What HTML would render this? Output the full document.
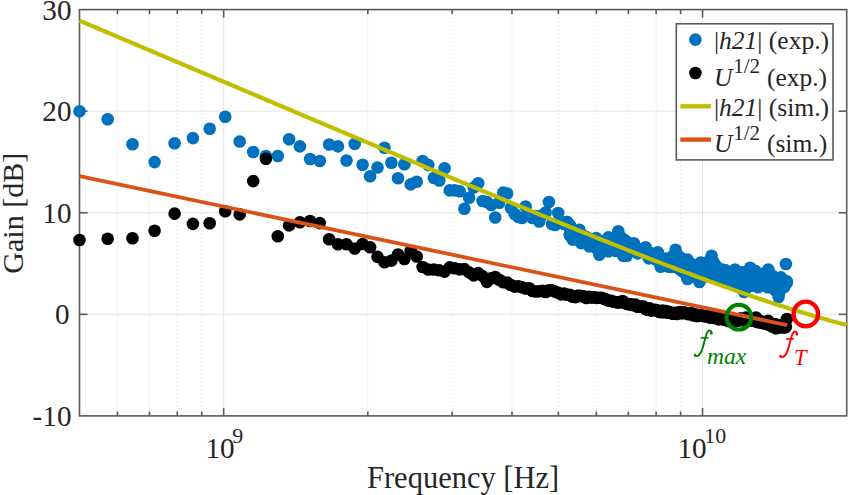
<!DOCTYPE html><html><head><meta charset="utf-8"><style>html,body{margin:0;padding:0;background:#fff;overflow:hidden}svg{display:block}text{font-family:"Liberation Serif",serif;fill:#262626}</style></head><body>
<svg width="849" height="495" viewBox="0 0 849 495">
<line x1="117.42" y1="9.6" x2="117.42" y2="415.9" stroke="#d2d2d2" stroke-width="1" stroke-dasharray="1,3"/><line x1="149.48" y1="9.6" x2="149.48" y2="415.9" stroke="#d2d2d2" stroke-width="1" stroke-dasharray="1,3"/><line x1="177.25" y1="9.6" x2="177.25" y2="415.9" stroke="#d2d2d2" stroke-width="1" stroke-dasharray="1,3"/><line x1="201.75" y1="9.6" x2="201.75" y2="415.9" stroke="#d2d2d2" stroke-width="1" stroke-dasharray="1,3"/><line x1="223.66" y1="9.6" x2="223.66" y2="415.9" stroke="#e4e4e4"  stroke-width="1"/><line x1="367.82" y1="9.6" x2="367.82" y2="415.9" stroke="#d2d2d2" stroke-width="1" stroke-dasharray="1,3"/><line x1="452.14" y1="9.6" x2="452.14" y2="415.9" stroke="#d2d2d2" stroke-width="1" stroke-dasharray="1,3"/><line x1="511.97" y1="9.6" x2="511.97" y2="415.9" stroke="#d2d2d2" stroke-width="1" stroke-dasharray="1,3"/><line x1="558.38" y1="9.6" x2="558.38" y2="415.9" stroke="#d2d2d2" stroke-width="1" stroke-dasharray="1,3"/><line x1="596.30" y1="9.6" x2="596.30" y2="415.9" stroke="#d2d2d2" stroke-width="1" stroke-dasharray="1,3"/><line x1="628.36" y1="9.6" x2="628.36" y2="415.9" stroke="#d2d2d2" stroke-width="1" stroke-dasharray="1,3"/><line x1="656.13" y1="9.6" x2="656.13" y2="415.9" stroke="#d2d2d2" stroke-width="1" stroke-dasharray="1,3"/><line x1="680.63" y1="9.6" x2="680.63" y2="415.9" stroke="#d2d2d2" stroke-width="1" stroke-dasharray="1,3"/><line x1="702.54" y1="9.6" x2="702.54" y2="415.9" stroke="#e4e4e4"  stroke-width="1"/><line x1="79.5" y1="111.17" x2="846.7" y2="111.17" stroke="#e4e4e4"  stroke-width="1"/><line x1="79.5" y1="212.75" x2="846.7" y2="212.75" stroke="#e4e4e4"  stroke-width="1"/><line x1="79.5" y1="314.32" x2="846.7" y2="314.32" stroke="#e4e4e4"  stroke-width="1"/>
<rect x="79.5" y="9.6" width="767.20" height="406.30" fill="none" stroke="#5a5a5a" stroke-width="1.6"/><line x1="117.42" y1="415.9" x2="117.42" y2="411.5" stroke="#5a5a5a" stroke-width="1.6"/><line x1="117.42" y1="9.6" x2="117.42" y2="14.0" stroke="#5a5a5a" stroke-width="1.6"/><line x1="149.48" y1="415.9" x2="149.48" y2="411.5" stroke="#5a5a5a" stroke-width="1.6"/><line x1="149.48" y1="9.6" x2="149.48" y2="14.0" stroke="#5a5a5a" stroke-width="1.6"/><line x1="177.25" y1="415.9" x2="177.25" y2="411.5" stroke="#5a5a5a" stroke-width="1.6"/><line x1="177.25" y1="9.6" x2="177.25" y2="14.0" stroke="#5a5a5a" stroke-width="1.6"/><line x1="201.75" y1="415.9" x2="201.75" y2="411.5" stroke="#5a5a5a" stroke-width="1.6"/><line x1="201.75" y1="9.6" x2="201.75" y2="14.0" stroke="#5a5a5a" stroke-width="1.6"/><line x1="223.66" y1="415.9" x2="223.66" y2="407.9" stroke="#5a5a5a" stroke-width="1.6"/><line x1="223.66" y1="9.6" x2="223.66" y2="17.6" stroke="#5a5a5a" stroke-width="1.6"/><line x1="367.82" y1="415.9" x2="367.82" y2="411.5" stroke="#5a5a5a" stroke-width="1.6"/><line x1="367.82" y1="9.6" x2="367.82" y2="14.0" stroke="#5a5a5a" stroke-width="1.6"/><line x1="452.14" y1="415.9" x2="452.14" y2="411.5" stroke="#5a5a5a" stroke-width="1.6"/><line x1="452.14" y1="9.6" x2="452.14" y2="14.0" stroke="#5a5a5a" stroke-width="1.6"/><line x1="511.97" y1="415.9" x2="511.97" y2="411.5" stroke="#5a5a5a" stroke-width="1.6"/><line x1="511.97" y1="9.6" x2="511.97" y2="14.0" stroke="#5a5a5a" stroke-width="1.6"/><line x1="558.38" y1="415.9" x2="558.38" y2="411.5" stroke="#5a5a5a" stroke-width="1.6"/><line x1="558.38" y1="9.6" x2="558.38" y2="14.0" stroke="#5a5a5a" stroke-width="1.6"/><line x1="596.30" y1="415.9" x2="596.30" y2="411.5" stroke="#5a5a5a" stroke-width="1.6"/><line x1="596.30" y1="9.6" x2="596.30" y2="14.0" stroke="#5a5a5a" stroke-width="1.6"/><line x1="628.36" y1="415.9" x2="628.36" y2="411.5" stroke="#5a5a5a" stroke-width="1.6"/><line x1="628.36" y1="9.6" x2="628.36" y2="14.0" stroke="#5a5a5a" stroke-width="1.6"/><line x1="656.13" y1="415.9" x2="656.13" y2="411.5" stroke="#5a5a5a" stroke-width="1.6"/><line x1="656.13" y1="9.6" x2="656.13" y2="14.0" stroke="#5a5a5a" stroke-width="1.6"/><line x1="680.63" y1="415.9" x2="680.63" y2="411.5" stroke="#5a5a5a" stroke-width="1.6"/><line x1="680.63" y1="9.6" x2="680.63" y2="14.0" stroke="#5a5a5a" stroke-width="1.6"/><line x1="702.54" y1="415.9" x2="702.54" y2="407.9" stroke="#5a5a5a" stroke-width="1.6"/><line x1="702.54" y1="9.6" x2="702.54" y2="17.6" stroke="#5a5a5a" stroke-width="1.6"/><line x1="79.5" y1="111.17" x2="87.5" y2="111.17" stroke="#5a5a5a" stroke-width="1.6"/><line x1="846.7" y1="111.17" x2="838.7" y2="111.17" stroke="#5a5a5a" stroke-width="1.6"/><line x1="79.5" y1="212.75" x2="87.5" y2="212.75" stroke="#5a5a5a" stroke-width="1.6"/><line x1="846.7" y1="212.75" x2="838.7" y2="212.75" stroke="#5a5a5a" stroke-width="1.6"/><line x1="79.5" y1="314.32" x2="87.5" y2="314.32" stroke="#5a5a5a" stroke-width="1.6"/><line x1="846.7" y1="314.32" x2="838.7" y2="314.32" stroke="#5a5a5a" stroke-width="1.6"/>
<g fill="#0072bd"><circle cx="79.5" cy="111.3" r="6.3"/><circle cx="107.7" cy="119.2" r="6.3"/><circle cx="132.5" cy="144.2" r="6.3"/><circle cx="154.6" cy="162.1" r="6.3"/><circle cx="174.6" cy="143.2" r="6.3"/><circle cx="192.9" cy="138.1" r="6.3"/><circle cx="209.7" cy="128.8" r="6.3"/><circle cx="225.2" cy="116.7" r="6.3"/><circle cx="239.7" cy="141.5" r="6.3"/><circle cx="253.2" cy="152.0" r="6.3"/><circle cx="265.9" cy="156.0" r="6.3"/><circle cx="277.8" cy="156.0" r="6.3"/><circle cx="289.1" cy="139.2" r="6.3"/><circle cx="299.9" cy="146.4" r="6.3"/><circle cx="310.1" cy="159.0" r="6.3"/><circle cx="319.8" cy="161.0" r="6.3"/><circle cx="329.1" cy="144.5" r="6.3"/><circle cx="338.0" cy="146.4" r="6.3"/><circle cx="346.5" cy="160.5" r="6.3"/><circle cx="354.7" cy="143.9" r="6.3"/><circle cx="362.6" cy="164.7" r="6.3"/><circle cx="370.1" cy="176.3" r="6.3"/><circle cx="377.5" cy="167.5" r="6.3"/><circle cx="384.5" cy="147.7" r="6.3"/><circle cx="391.4" cy="162.8" r="6.3"/><circle cx="398.0" cy="178.2" r="6.3"/><circle cx="404.4" cy="164.3" r="6.3"/><circle cx="410.7" cy="184.4" r="6.3"/><circle cx="416.7" cy="181.7" r="6.3"/><circle cx="422.6" cy="161.0" r="6.3"/><circle cx="428.3" cy="165.0" r="6.3"/><circle cx="433.9" cy="178.0" r="6.3"/><circle cx="439.3" cy="180.5" r="6.3"/><circle cx="444.6" cy="168.2" r="6.3"/><circle cx="449.7" cy="190.4" r="6.3"/><circle cx="454.7" cy="190.4" r="6.3"/><circle cx="459.6" cy="191.2" r="6.3"/><circle cx="464.4" cy="208.7" r="6.3"/><circle cx="469.1" cy="197.8" r="6.3"/><circle cx="473.7" cy="187.5" r="6.3"/><circle cx="478.2" cy="183.3" r="6.3"/><circle cx="482.6" cy="201.0" r="6.3"/><circle cx="486.9" cy="202.0" r="6.3"/><circle cx="491.1" cy="205.0" r="6.3"/><circle cx="495.2" cy="217.5" r="6.3"/><circle cx="499.2" cy="202.7" r="6.3"/><circle cx="503.2" cy="192.6" r="6.3"/><circle cx="507.1" cy="193.5" r="6.3"/><circle cx="510.9" cy="208.0" r="6.3"/><circle cx="514.7" cy="214.0" r="6.3"/><circle cx="518.4" cy="217.0" r="6.3"/><circle cx="522.0" cy="218.0" r="6.3"/><circle cx="525.6" cy="206.5" r="6.3"/><circle cx="529.1" cy="215.4" r="6.3"/><circle cx="532.5" cy="218.0" r="6.3"/><circle cx="535.9" cy="216.0" r="6.3"/><circle cx="539.2" cy="221.5" r="6.3"/><circle cx="542.5" cy="215.0" r="6.3"/><circle cx="545.7" cy="212.5" r="6.3"/><circle cx="548.9" cy="202.0" r="6.3"/><circle cx="552.0" cy="224.0" r="6.3"/><circle cx="555.1" cy="225.0" r="6.3"/><circle cx="558.2" cy="213.0" r="6.3"/><circle cx="561.2" cy="222.0" r="6.3"/><circle cx="564.1" cy="224.0" r="6.3"/><circle cx="567.0" cy="222.0" r="6.3"/><circle cx="569.9" cy="235.0" r="6.3"/><circle cx="572.7" cy="239.5" r="6.3"/><circle cx="569.9" cy="229.1" r="6.3"/><circle cx="569.9" cy="235.2" r="6.3"/><circle cx="572.7" cy="230.5" r="6.3"/><circle cx="572.7" cy="235.2" r="6.3"/><circle cx="575.5" cy="231.9" r="6.3"/><circle cx="575.5" cy="236.3" r="6.3"/><circle cx="578.3" cy="233.2" r="6.3"/><circle cx="578.3" cy="237.7" r="6.3"/><circle cx="581.0" cy="234.5" r="6.3"/><circle cx="581.0" cy="239.1" r="6.3"/><circle cx="583.7" cy="235.8" r="6.3"/><circle cx="583.7" cy="240.1" r="6.3"/><circle cx="586.4" cy="237.2" r="6.3"/><circle cx="586.4" cy="241.2" r="6.3"/><circle cx="589.0" cy="238.5" r="6.3"/><circle cx="589.0" cy="242.2" r="6.3"/><circle cx="591.6" cy="239.7" r="6.3"/><circle cx="591.6" cy="244.2" r="6.3"/><circle cx="594.1" cy="241.0" r="6.3"/><circle cx="594.1" cy="246.4" r="6.3"/><circle cx="596.6" cy="242.0" r="6.3"/><circle cx="596.6" cy="248.5" r="6.3"/><circle cx="599.1" cy="241.9" r="6.3"/><circle cx="599.1" cy="246.2" r="6.3"/><circle cx="599.1" cy="250.6" r="6.3"/><circle cx="601.6" cy="241.7" r="6.3"/><circle cx="601.6" cy="245.8" r="6.3"/><circle cx="601.6" cy="250.0" r="6.3"/><circle cx="604.0" cy="241.6" r="6.3"/><circle cx="604.0" cy="245.3" r="6.3"/><circle cx="604.0" cy="249.0" r="6.3"/><circle cx="606.4" cy="241.5" r="6.3"/><circle cx="606.4" cy="248.1" r="6.3"/><circle cx="608.8" cy="241.1" r="6.3"/><circle cx="608.8" cy="247.4" r="6.3"/><circle cx="611.2" cy="239.6" r="6.3"/><circle cx="611.2" cy="243.4" r="6.3"/><circle cx="611.2" cy="247.2" r="6.3"/><circle cx="613.5" cy="238.2" r="6.3"/><circle cx="613.5" cy="242.6" r="6.3"/><circle cx="613.5" cy="247.0" r="6.3"/><circle cx="615.8" cy="236.8" r="6.3"/><circle cx="615.8" cy="241.9" r="6.3"/><circle cx="615.8" cy="247.0" r="6.3"/><circle cx="618.1" cy="235.4" r="6.3"/><circle cx="618.1" cy="242.0" r="6.3"/><circle cx="618.1" cy="248.5" r="6.3"/><circle cx="620.3" cy="236.9" r="6.3"/><circle cx="620.3" cy="243.4" r="6.3"/><circle cx="620.3" cy="250.0" r="6.3"/><circle cx="622.6" cy="238.6" r="6.3"/><circle cx="622.6" cy="245.0" r="6.3"/><circle cx="622.6" cy="251.4" r="6.3"/><circle cx="624.8" cy="240.3" r="6.3"/><circle cx="624.8" cy="246.0" r="6.3"/><circle cx="624.8" cy="251.8" r="6.3"/><circle cx="626.9" cy="242.0" r="6.3"/><circle cx="626.9" cy="246.8" r="6.3"/><circle cx="626.9" cy="251.6" r="6.3"/><circle cx="629.1" cy="243.6" r="6.3"/><circle cx="629.1" cy="247.4" r="6.3"/><circle cx="629.1" cy="251.2" r="6.3"/><circle cx="631.2" cy="245.3" r="6.3"/><circle cx="631.2" cy="250.8" r="6.3"/><circle cx="633.4" cy="246.9" r="6.3"/><circle cx="633.4" cy="250.3" r="6.3"/><circle cx="635.4" cy="247.8" r="6.3"/><circle cx="635.4" cy="249.9" r="6.3"/><circle cx="637.5" cy="248.5" r="6.3"/><circle cx="637.5" cy="249.5" r="6.3"/><circle cx="639.6" cy="249.2" r="6.3"/><circle cx="639.6" cy="250.2" r="6.3"/><circle cx="641.6" cy="249.9" r="6.3"/><circle cx="641.6" cy="251.1" r="6.3"/><circle cx="643.6" cy="250.5" r="6.3"/><circle cx="643.6" cy="252.0" r="6.3"/><circle cx="645.6" cy="251.2" r="6.3"/><circle cx="645.6" cy="252.9" r="6.3"/><circle cx="647.6" cy="252.0" r="6.3"/><circle cx="647.6" cy="253.8" r="6.3"/><circle cx="649.5" cy="252.8" r="6.3"/><circle cx="649.5" cy="254.9" r="6.3"/><circle cx="651.5" cy="253.6" r="6.3"/><circle cx="651.5" cy="256.2" r="6.3"/><circle cx="653.4" cy="254.4" r="6.3"/><circle cx="653.4" cy="257.6" r="6.3"/><circle cx="655.3" cy="255.2" r="6.3"/><circle cx="655.3" cy="259.0" r="6.3"/><circle cx="657.2" cy="255.9" r="6.3"/><circle cx="657.2" cy="260.3" r="6.3"/><circle cx="659.0" cy="257.2" r="6.3"/><circle cx="659.0" cy="261.7" r="6.3"/><circle cx="660.9" cy="258.6" r="6.3"/><circle cx="660.9" cy="262.8" r="6.3"/><circle cx="662.7" cy="260.0" r="6.3"/><circle cx="662.7" cy="262.8" r="6.3"/><circle cx="664.5" cy="261.4" r="6.3"/><circle cx="664.5" cy="262.8" r="6.3"/><circle cx="666.3" cy="262.2" r="6.3"/><circle cx="666.3" cy="262.8" r="6.3"/><circle cx="668.1" cy="260.5" r="6.3"/><circle cx="668.1" cy="262.8" r="6.3"/><circle cx="669.9" cy="258.9" r="6.3"/><circle cx="669.9" cy="262.8" r="6.3"/><circle cx="671.7" cy="257.3" r="6.3"/><circle cx="671.7" cy="262.9" r="6.3"/><circle cx="673.4" cy="255.7" r="6.3"/><circle cx="673.4" cy="260.0" r="6.3"/><circle cx="673.4" cy="264.3" r="6.3"/><circle cx="675.1" cy="254.1" r="6.3"/><circle cx="675.1" cy="259.9" r="6.3"/><circle cx="675.1" cy="265.6" r="6.3"/><circle cx="676.8" cy="254.7" r="6.3"/><circle cx="676.8" cy="260.8" r="6.3"/><circle cx="676.8" cy="266.9" r="6.3"/><circle cx="678.5" cy="256.1" r="6.3"/><circle cx="678.5" cy="262.2" r="6.3"/><circle cx="678.5" cy="268.2" r="6.3"/><circle cx="680.2" cy="257.5" r="6.3"/><circle cx="680.2" cy="263.5" r="6.3"/><circle cx="680.2" cy="269.5" r="6.3"/><circle cx="681.9" cy="258.9" r="6.3"/><circle cx="681.9" cy="264.9" r="6.3"/><circle cx="681.9" cy="270.8" r="6.3"/><circle cx="683.6" cy="260.3" r="6.3"/><circle cx="683.6" cy="266.2" r="6.3"/><circle cx="683.6" cy="272.1" r="6.3"/><circle cx="685.2" cy="261.7" r="6.3"/><circle cx="685.2" cy="267.5" r="6.3"/><circle cx="685.2" cy="273.3" r="6.3"/><circle cx="686.8" cy="263.0" r="6.3"/><circle cx="686.8" cy="268.8" r="6.3"/><circle cx="686.8" cy="274.6" r="6.3"/><circle cx="688.5" cy="263.7" r="6.3"/><circle cx="688.5" cy="269.5" r="6.3"/><circle cx="688.5" cy="275.3" r="6.3"/><circle cx="690.1" cy="264.1" r="6.3"/><circle cx="690.1" cy="269.9" r="6.3"/><circle cx="690.1" cy="275.7" r="6.3"/><circle cx="691.7" cy="264.5" r="6.3"/><circle cx="691.7" cy="270.3" r="6.3"/><circle cx="691.7" cy="276.1" r="6.3"/><circle cx="693.2" cy="264.8" r="6.3"/><circle cx="693.2" cy="270.6" r="6.3"/><circle cx="693.2" cy="276.4" r="6.3"/><circle cx="694.8" cy="265.2" r="6.3"/><circle cx="694.8" cy="271.0" r="6.3"/><circle cx="694.8" cy="276.8" r="6.3"/><circle cx="696.4" cy="265.5" r="6.3"/><circle cx="696.4" cy="271.4" r="6.3"/><circle cx="696.4" cy="277.2" r="6.3"/><circle cx="697.9" cy="265.9" r="6.3"/><circle cx="697.9" cy="271.7" r="6.3"/><circle cx="697.9" cy="277.6" r="6.3"/><circle cx="699.5" cy="266.2" r="6.3"/><circle cx="699.5" cy="272.1" r="6.3"/><circle cx="699.5" cy="278.0" r="6.3"/><circle cx="701.0" cy="266.3" r="6.3"/><circle cx="701.0" cy="271.9" r="6.3"/><circle cx="701.0" cy="277.5" r="6.3"/><circle cx="702.5" cy="265.4" r="6.3"/><circle cx="702.5" cy="271.2" r="6.3"/><circle cx="702.5" cy="277.0" r="6.3"/><circle cx="704.0" cy="264.5" r="6.3"/><circle cx="704.0" cy="270.5" r="6.3"/><circle cx="704.0" cy="276.5" r="6.3"/><circle cx="705.5" cy="263.6" r="6.3"/><circle cx="705.5" cy="269.8" r="6.3"/><circle cx="705.5" cy="276.1" r="6.3"/><circle cx="707.0" cy="262.6" r="6.3"/><circle cx="707.0" cy="269.1" r="6.3"/><circle cx="707.0" cy="275.6" r="6.3"/><circle cx="708.4" cy="261.7" r="6.3"/><circle cx="708.4" cy="268.4" r="6.3"/><circle cx="708.4" cy="275.1" r="6.3"/><circle cx="709.9" cy="260.8" r="6.3"/><circle cx="709.9" cy="267.7" r="6.3"/><circle cx="709.9" cy="274.6" r="6.3"/><circle cx="711.3" cy="260.0" r="6.3"/><circle cx="711.3" cy="264.7" r="6.3"/><circle cx="711.3" cy="269.4" r="6.3"/><circle cx="711.3" cy="274.2" r="6.3"/><circle cx="712.8" cy="261.4" r="6.3"/><circle cx="712.8" cy="267.6" r="6.3"/><circle cx="712.8" cy="273.7" r="6.3"/><circle cx="714.2" cy="263.4" r="6.3"/><circle cx="714.2" cy="268.9" r="6.3"/><circle cx="714.2" cy="274.3" r="6.3"/><circle cx="715.6" cy="265.4" r="6.3"/><circle cx="715.6" cy="270.2" r="6.3"/><circle cx="715.6" cy="275.0" r="6.3"/><circle cx="717.0" cy="267.3" r="6.3"/><circle cx="717.0" cy="271.5" r="6.3"/><circle cx="717.0" cy="275.6" r="6.3"/><circle cx="718.5" cy="269.3" r="6.3"/><circle cx="718.5" cy="272.8" r="6.3"/><circle cx="718.5" cy="276.3" r="6.3"/><circle cx="719.8" cy="271.2" r="6.3"/><circle cx="719.8" cy="276.9" r="6.3"/><circle cx="721.2" cy="273.1" r="6.3"/><circle cx="721.2" cy="277.5" r="6.3"/><circle cx="722.6" cy="273.5" r="6.3"/><circle cx="722.6" cy="278.2" r="6.3"/><circle cx="724.0" cy="273.8" r="6.3"/><circle cx="724.0" cy="278.8" r="6.3"/><circle cx="725.3" cy="274.1" r="6.3"/><circle cx="725.3" cy="279.4" r="6.3"/><circle cx="726.7" cy="274.0" r="6.3"/><circle cx="726.7" cy="280.0" r="6.3"/><circle cx="728.0" cy="273.9" r="6.3"/><circle cx="728.0" cy="280.6" r="6.3"/><circle cx="729.3" cy="273.9" r="6.3"/><circle cx="729.3" cy="277.6" r="6.3"/><circle cx="729.3" cy="281.3" r="6.3"/><circle cx="730.7" cy="273.8" r="6.3"/><circle cx="730.7" cy="277.8" r="6.3"/><circle cx="730.7" cy="281.9" r="6.3"/><circle cx="732.0" cy="273.7" r="6.3"/><circle cx="732.0" cy="278.1" r="6.3"/><circle cx="732.0" cy="282.5" r="6.3"/><circle cx="733.3" cy="273.6" r="6.3"/><circle cx="733.3" cy="278.3" r="6.3"/><circle cx="733.3" cy="283.1" r="6.3"/><circle cx="734.6" cy="273.5" r="6.3"/><circle cx="734.6" cy="278.6" r="6.3"/><circle cx="734.6" cy="283.6" r="6.3"/><circle cx="735.9" cy="273.4" r="6.3"/><circle cx="735.9" cy="278.8" r="6.3"/><circle cx="735.9" cy="284.2" r="6.3"/><circle cx="737.1" cy="273.2" r="6.3"/><circle cx="737.1" cy="279.0" r="6.3"/><circle cx="737.1" cy="284.8" r="6.3"/><circle cx="738.4" cy="273.1" r="6.3"/><circle cx="738.4" cy="279.2" r="6.3"/><circle cx="738.4" cy="285.4" r="6.3"/><circle cx="739.7" cy="272.9" r="6.3"/><circle cx="739.7" cy="279.5" r="6.3"/><circle cx="739.7" cy="286.0" r="6.3"/><circle cx="740.9" cy="272.8" r="6.3"/><circle cx="740.9" cy="279.7" r="6.3"/><circle cx="740.9" cy="286.6" r="6.3"/><circle cx="742.2" cy="272.6" r="6.3"/><circle cx="742.2" cy="277.5" r="6.3"/><circle cx="742.2" cy="282.3" r="6.3"/><circle cx="742.2" cy="287.1" r="6.3"/><circle cx="743.4" cy="272.5" r="6.3"/><circle cx="743.4" cy="277.6" r="6.3"/><circle cx="743.4" cy="282.6" r="6.3"/><circle cx="743.4" cy="287.7" r="6.3"/><circle cx="744.7" cy="272.3" r="6.3"/><circle cx="744.7" cy="277.5" r="6.3"/><circle cx="744.7" cy="282.7" r="6.3"/><circle cx="744.7" cy="287.8" r="6.3"/><circle cx="745.9" cy="272.2" r="6.3"/><circle cx="745.9" cy="277.3" r="6.3"/><circle cx="745.9" cy="282.3" r="6.3"/><circle cx="745.9" cy="287.4" r="6.3"/><circle cx="747.1" cy="272.1" r="6.3"/><circle cx="747.1" cy="277.0" r="6.3"/><circle cx="747.1" cy="282.0" r="6.3"/><circle cx="747.1" cy="287.0" r="6.3"/><circle cx="748.3" cy="271.9" r="6.3"/><circle cx="748.3" cy="276.8" r="6.3"/><circle cx="748.3" cy="281.7" r="6.3"/><circle cx="748.3" cy="286.5" r="6.3"/><circle cx="749.5" cy="271.8" r="6.3"/><circle cx="749.5" cy="276.6" r="6.3"/><circle cx="749.5" cy="281.3" r="6.3"/><circle cx="749.5" cy="286.1" r="6.3"/><circle cx="750.7" cy="272.1" r="6.3"/><circle cx="750.7" cy="278.9" r="6.3"/><circle cx="750.7" cy="285.7" r="6.3"/><circle cx="751.9" cy="272.8" r="6.3"/><circle cx="751.9" cy="279.1" r="6.3"/><circle cx="751.9" cy="285.3" r="6.3"/><circle cx="753.1" cy="273.5" r="6.3"/><circle cx="753.1" cy="279.2" r="6.3"/><circle cx="753.1" cy="284.9" r="6.3"/><circle cx="754.3" cy="274.3" r="6.3"/><circle cx="754.3" cy="279.4" r="6.3"/><circle cx="754.3" cy="284.5" r="6.3"/><circle cx="755.5" cy="274.7" r="6.3"/><circle cx="755.5" cy="279.4" r="6.3"/><circle cx="755.5" cy="284.1" r="6.3"/><circle cx="756.6" cy="274.6" r="6.3"/><circle cx="756.6" cy="279.1" r="6.3"/><circle cx="756.6" cy="283.7" r="6.3"/><circle cx="757.8" cy="274.4" r="6.3"/><circle cx="757.8" cy="278.9" r="6.3"/><circle cx="757.8" cy="283.3" r="6.3"/><circle cx="758.9" cy="274.3" r="6.3"/><circle cx="758.9" cy="278.8" r="6.3"/><circle cx="758.9" cy="283.2" r="6.3"/><circle cx="760.1" cy="274.2" r="6.3"/><circle cx="760.1" cy="278.7" r="6.3"/><circle cx="760.1" cy="283.2" r="6.3"/><circle cx="761.2" cy="274.1" r="6.3"/><circle cx="761.2" cy="278.7" r="6.3"/><circle cx="761.2" cy="283.2" r="6.3"/><circle cx="762.4" cy="274.0" r="6.3"/><circle cx="762.4" cy="278.6" r="6.3"/><circle cx="762.4" cy="283.2" r="6.3"/><circle cx="763.5" cy="273.9" r="6.3"/><circle cx="763.5" cy="278.6" r="6.3"/><circle cx="763.5" cy="283.2" r="6.3"/><circle cx="764.6" cy="273.8" r="6.3"/><circle cx="764.6" cy="278.5" r="6.3"/><circle cx="764.6" cy="283.2" r="6.3"/><circle cx="765.7" cy="273.7" r="6.3"/><circle cx="765.7" cy="278.5" r="6.3"/><circle cx="765.7" cy="283.2" r="6.3"/><circle cx="766.8" cy="273.6" r="6.3"/><circle cx="766.8" cy="278.4" r="6.3"/><circle cx="766.8" cy="283.2" r="6.3"/><circle cx="767.9" cy="273.5" r="6.3"/><circle cx="767.9" cy="278.5" r="6.3"/><circle cx="767.9" cy="283.4" r="6.3"/><circle cx="769.0" cy="274.0" r="6.3"/><circle cx="769.0" cy="279.2" r="6.3"/><circle cx="769.0" cy="284.4" r="6.3"/><circle cx="770.1" cy="274.6" r="6.3"/><circle cx="770.1" cy="280.0" r="6.3"/><circle cx="770.1" cy="285.4" r="6.3"/><circle cx="771.2" cy="275.3" r="6.3"/><circle cx="771.2" cy="280.8" r="6.3"/><circle cx="771.2" cy="286.4" r="6.3"/><circle cx="772.3" cy="276.0" r="6.3"/><circle cx="772.3" cy="281.7" r="6.3"/><circle cx="772.3" cy="287.3" r="6.3"/><circle cx="773.4" cy="276.7" r="6.3"/><circle cx="773.4" cy="282.5" r="6.3"/><circle cx="773.4" cy="288.3" r="6.3"/><circle cx="774.4" cy="277.3" r="6.3"/><circle cx="774.4" cy="283.3" r="6.3"/><circle cx="774.4" cy="289.3" r="6.3"/><circle cx="775.5" cy="278.0" r="6.3"/><circle cx="775.5" cy="284.1" r="6.3"/><circle cx="775.5" cy="290.2" r="6.3"/><circle cx="776.6" cy="278.6" r="6.3"/><circle cx="776.6" cy="284.9" r="6.3"/><circle cx="776.6" cy="291.2" r="6.3"/><circle cx="777.6" cy="279.3" r="6.3"/><circle cx="777.6" cy="285.7" r="6.3"/><circle cx="777.6" cy="292.1" r="6.3"/><circle cx="778.7" cy="279.9" r="6.3"/><circle cx="778.7" cy="286.4" r="6.3"/><circle cx="778.7" cy="292.9" r="6.3"/><circle cx="779.7" cy="280.6" r="6.3"/><circle cx="779.7" cy="285.8" r="6.3"/><circle cx="779.7" cy="291.0" r="6.3"/><circle cx="780.7" cy="281.2" r="6.3"/><circle cx="780.7" cy="285.2" r="6.3"/><circle cx="780.7" cy="289.2" r="6.3"/><circle cx="781.8" cy="281.4" r="6.3"/><circle cx="781.8" cy="287.4" r="6.3"/><circle cx="782.8" cy="281.4" r="6.3"/><circle cx="782.8" cy="285.6" r="6.3"/><circle cx="783.8" cy="281.4" r="6.3"/><circle cx="783.8" cy="283.8" r="6.3"/><circle cx="784.8" cy="281.4" r="6.3"/><circle cx="784.8" cy="282.8" r="6.3"/><circle cx="785.9" cy="281.4" r="6.3"/><circle cx="785.9" cy="282.8" r="6.3"/><circle cx="786.9" cy="281.4" r="6.3"/><circle cx="786.9" cy="282.8" r="6.3"/><circle cx="567.0" cy="222.0" r="6.3"/><circle cx="570.0" cy="225.2" r="6.3"/><circle cx="579.4" cy="229.7" r="6.3"/><circle cx="596.1" cy="238.0" r="6.3"/><circle cx="608.3" cy="237.4" r="6.3"/><circle cx="618.3" cy="231.3" r="6.3"/><circle cx="633.9" cy="243.3" r="6.3"/><circle cx="645.6" cy="247.2" r="6.3"/><circle cx="657.8" cy="252.2" r="6.3"/><circle cx="666.0" cy="258.5" r="6.3"/><circle cx="675.6" cy="249.7" r="6.3"/><circle cx="687.4" cy="259.5" r="6.3"/><circle cx="700.7" cy="262.5" r="6.3"/><circle cx="711.6" cy="255.8" r="6.3"/><circle cx="721.3" cy="269.2" r="6.3"/><circle cx="725.3" cy="270.1" r="6.3"/><circle cx="735.0" cy="269.5" r="6.3"/><circle cx="750.1" cy="267.7" r="6.3"/><circle cx="755.0" cy="270.7" r="6.3"/><circle cx="768.3" cy="269.5" r="6.3"/><circle cx="781.0" cy="277.4" r="6.3"/><circle cx="573.3" cy="239.2" r="6.3"/><circle cx="581.1" cy="243.1" r="6.3"/><circle cx="589.4" cy="246.4" r="6.3"/><circle cx="599.4" cy="254.8" r="6.3"/><circle cx="608.3" cy="251.4" r="6.3"/><circle cx="615.6" cy="250.9" r="6.3"/><circle cx="623.3" cy="255.9" r="6.3"/><circle cx="626.7" cy="255.7" r="6.3"/><circle cx="637.8" cy="253.4" r="6.3"/><circle cx="648.9" cy="258.4" r="6.3"/><circle cx="660.6" cy="266.8" r="6.3"/><circle cx="668.9" cy="266.8" r="6.3"/><circle cx="671.6" cy="266.9" r="6.3"/><circle cx="687.4" cy="279.0" r="6.3"/><circle cx="699.5" cy="282.0" r="6.3"/><circle cx="712.8" cy="277.7" r="6.3"/><circle cx="744.1" cy="292.0" r="6.3"/><circle cx="758.0" cy="287.2" r="6.3"/><circle cx="767.7" cy="287.2" r="6.3"/><circle cx="778.6" cy="297.0" r="6.3"/><circle cx="784.4" cy="286.8" r="6.3"/><circle cx="785.9" cy="264.0" r="6.3"/></g>
<g fill="#000"><circle cx="79.5" cy="240.0" r="6.3"/><circle cx="107.7" cy="238.7" r="6.3"/><circle cx="132.5" cy="238.3" r="6.3"/><circle cx="154.6" cy="230.8" r="6.3"/><circle cx="174.6" cy="213.6" r="6.3"/><circle cx="192.9" cy="223.9" r="6.3"/><circle cx="209.7" cy="223.3" r="6.3"/><circle cx="225.2" cy="211.2" r="6.3"/><circle cx="239.7" cy="214.4" r="6.3"/><circle cx="253.2" cy="181.1" r="6.3"/><circle cx="265.9" cy="158.9" r="6.3"/><circle cx="277.8" cy="236.2" r="6.3"/><circle cx="289.1" cy="225.4" r="6.3"/><circle cx="299.9" cy="222.3" r="6.3"/><circle cx="310.1" cy="221.0" r="6.3"/><circle cx="319.8" cy="223.1" r="6.3"/><circle cx="329.1" cy="239.3" r="6.3"/><circle cx="338.0" cy="244.2" r="6.3"/><circle cx="346.5" cy="244.2" r="6.3"/><circle cx="354.7" cy="248.5" r="6.3"/><circle cx="362.6" cy="244.0" r="6.3"/><circle cx="370.1" cy="247.2" r="6.3"/><circle cx="377.5" cy="256.9" r="6.3"/><circle cx="384.5" cy="262.3" r="6.3"/><circle cx="391.4" cy="260.6" r="6.3"/><circle cx="398.0" cy="254.5" r="6.3"/><circle cx="404.4" cy="259.0" r="6.3"/><circle cx="410.7" cy="250.9" r="6.3"/><circle cx="416.7" cy="256.5" r="6.3"/><circle cx="422.6" cy="267.0" r="6.3"/><circle cx="428.3" cy="269.5" r="6.3"/><circle cx="433.9" cy="269.5" r="6.3"/><circle cx="439.3" cy="270.3" r="6.3"/><circle cx="444.6" cy="271.6" r="6.3"/><circle cx="449.7" cy="267.4" r="6.3"/><circle cx="454.7" cy="268.2" r="6.3"/><circle cx="459.6" cy="269.4" r="6.3"/><circle cx="464.4" cy="269.1" r="6.3"/><circle cx="469.1" cy="272.4" r="6.3"/><circle cx="473.7" cy="275.4" r="6.3"/><circle cx="478.2" cy="273.1" r="6.3"/><circle cx="482.6" cy="276.1" r="6.3"/><circle cx="486.9" cy="281.9" r="6.3"/><circle cx="491.1" cy="278.3" r="6.3"/><circle cx="495.2" cy="277.0" r="6.3"/><circle cx="499.2" cy="279.8" r="6.3"/><circle cx="503.2" cy="282.2" r="6.3"/><circle cx="507.1" cy="282.6" r="6.3"/><circle cx="510.9" cy="285.0" r="6.3"/><circle cx="514.7" cy="286.6" r="6.3"/><circle cx="518.4" cy="286.2" r="6.3"/><circle cx="522.0" cy="287.3" r="6.3"/><circle cx="525.6" cy="288.5" r="6.3"/><circle cx="529.1" cy="288.3" r="6.3"/><circle cx="532.5" cy="291.0" r="6.3"/><circle cx="535.9" cy="291.5" r="6.3"/><circle cx="539.2" cy="291.2" r="6.3"/><circle cx="542.5" cy="290.8" r="6.3"/><circle cx="545.7" cy="292.0" r="6.3"/><circle cx="548.9" cy="290.3" r="6.3"/><circle cx="552.0" cy="290.2" r="6.3"/><circle cx="555.1" cy="291.6" r="6.3"/><circle cx="558.2" cy="292.8" r="6.3"/><circle cx="561.2" cy="294.4" r="6.3"/><circle cx="564.1" cy="293.5" r="6.3"/><circle cx="567.0" cy="294.7" r="6.3"/><circle cx="569.9" cy="294.7" r="6.3"/><circle cx="572.7" cy="296.7" r="6.3"/><circle cx="575.5" cy="297.1" r="6.3"/><circle cx="578.3" cy="295.6" r="6.3"/><circle cx="581.0" cy="296.1" r="6.3"/><circle cx="583.7" cy="296.2" r="6.3"/><circle cx="586.4" cy="298.0" r="6.3"/><circle cx="589.0" cy="296.8" r="6.3"/><circle cx="591.6" cy="297.6" r="6.3"/><circle cx="594.1" cy="297.2" r="6.3"/><circle cx="596.6" cy="297.9" r="6.3"/><circle cx="599.1" cy="297.8" r="6.3"/><circle cx="601.6" cy="297.8" r="6.3"/><circle cx="604.0" cy="298.9" r="6.3"/><circle cx="606.4" cy="299.5" r="6.3"/><circle cx="608.8" cy="300.8" r="6.3"/><circle cx="611.2" cy="300.7" r="6.3"/><circle cx="613.5" cy="301.8" r="6.3"/><circle cx="615.8" cy="302.0" r="6.3"/><circle cx="618.1" cy="302.6" r="6.3"/><circle cx="620.3" cy="302.0" r="6.3"/><circle cx="622.6" cy="301.0" r="6.3"/><circle cx="624.8" cy="303.0" r="6.3"/><circle cx="626.9" cy="303.9" r="6.3"/><circle cx="629.1" cy="304.4" r="6.3"/><circle cx="631.2" cy="304.2" r="6.3"/><circle cx="633.4" cy="305.2" r="6.3"/><circle cx="635.4" cy="304.6" r="6.3"/><circle cx="637.5" cy="306.8" r="6.3"/><circle cx="639.6" cy="306.7" r="6.3"/><circle cx="641.6" cy="306.6" r="6.3"/><circle cx="643.6" cy="306.6" r="6.3"/><circle cx="645.6" cy="309.1" r="6.3"/><circle cx="647.6" cy="309.9" r="6.3"/><circle cx="649.5" cy="308.3" r="6.3"/><circle cx="651.5" cy="310.6" r="6.3"/><circle cx="653.4" cy="310.0" r="6.3"/><circle cx="655.3" cy="309.7" r="6.3"/><circle cx="657.2" cy="310.3" r="6.3"/><circle cx="659.0" cy="311.7" r="6.3"/><circle cx="660.9" cy="312.2" r="6.3"/><circle cx="662.7" cy="310.5" r="6.3"/><circle cx="664.5" cy="312.2" r="6.3"/><circle cx="666.3" cy="311.0" r="6.3"/><circle cx="668.1" cy="312.8" r="6.3"/><circle cx="669.9" cy="312.0" r="6.3"/><circle cx="671.7" cy="313.4" r="6.3"/><circle cx="673.4" cy="313.7" r="6.3"/><circle cx="675.1" cy="312.7" r="6.3"/><circle cx="676.8" cy="314.0" r="6.3"/><circle cx="678.5" cy="312.5" r="6.3"/><circle cx="680.2" cy="312.0" r="6.3"/><circle cx="681.9" cy="313.4" r="6.3"/><circle cx="683.6" cy="312.3" r="6.3"/><circle cx="685.2" cy="312.9" r="6.3"/><circle cx="686.8" cy="313.5" r="6.3"/><circle cx="688.5" cy="314.2" r="6.3"/><circle cx="690.1" cy="313.3" r="6.3"/><circle cx="691.7" cy="313.2" r="6.3"/><circle cx="693.2" cy="315.4" r="6.3"/><circle cx="694.8" cy="314.2" r="6.3"/><circle cx="696.4" cy="316.0" r="6.3"/><circle cx="697.9" cy="316.0" r="6.3"/><circle cx="699.5" cy="314.9" r="6.3"/><circle cx="701.0" cy="315.3" r="6.3"/><circle cx="702.5" cy="315.7" r="6.3"/><circle cx="704.0" cy="316.1" r="6.3"/><circle cx="705.5" cy="316.2" r="6.3"/><circle cx="707.0" cy="316.3" r="6.3"/><circle cx="708.4" cy="316.6" r="6.3"/><circle cx="709.9" cy="317.6" r="6.3"/><circle cx="711.3" cy="316.9" r="6.3"/><circle cx="712.8" cy="317.0" r="6.3"/><circle cx="714.2" cy="318.0" r="6.3"/><circle cx="715.6" cy="317.1" r="6.3"/><circle cx="717.0" cy="317.5" r="6.3"/><circle cx="718.5" cy="319.4" r="6.3"/><circle cx="719.8" cy="318.6" r="6.3"/><circle cx="721.2" cy="319.0" r="6.3"/><circle cx="722.6" cy="317.9" r="6.3"/><circle cx="724.0" cy="319.3" r="6.3"/><circle cx="725.3" cy="320.0" r="6.3"/><circle cx="726.7" cy="319.0" r="6.3"/><circle cx="728.0" cy="320.8" r="6.3"/><circle cx="729.3" cy="321.2" r="6.3"/><circle cx="730.7" cy="320.0" r="6.3"/><circle cx="732.0" cy="321.1" r="6.3"/><circle cx="733.3" cy="320.6" r="6.3"/><circle cx="734.6" cy="320.9" r="6.3"/><circle cx="735.9" cy="320.0" r="6.3"/><circle cx="737.1" cy="320.7" r="6.3"/><circle cx="738.4" cy="320.6" r="6.3"/><circle cx="739.7" cy="318.7" r="6.3"/><circle cx="740.9" cy="318.6" r="6.3"/><circle cx="742.2" cy="319.9" r="6.3"/><circle cx="743.4" cy="320.4" r="6.3"/><circle cx="744.7" cy="318.6" r="6.3"/><circle cx="745.9" cy="318.9" r="6.3"/><circle cx="747.1" cy="319.5" r="6.3"/><circle cx="748.3" cy="319.1" r="6.3"/><circle cx="749.5" cy="319.4" r="6.3"/><circle cx="750.7" cy="319.6" r="6.3"/><circle cx="751.9" cy="320.0" r="6.3"/><circle cx="753.1" cy="320.8" r="6.3"/><circle cx="754.3" cy="320.3" r="6.3"/><circle cx="755.5" cy="320.7" r="6.3"/><circle cx="756.6" cy="321.9" r="6.3"/><circle cx="757.8" cy="320.4" r="6.3"/><circle cx="758.9" cy="321.9" r="6.3"/><circle cx="760.1" cy="322.6" r="6.3"/><circle cx="761.2" cy="321.8" r="6.3"/><circle cx="762.4" cy="321.8" r="6.3"/><circle cx="763.5" cy="323.4" r="6.3"/><circle cx="764.6" cy="322.3" r="6.3"/><circle cx="765.7" cy="322.4" r="6.3"/><circle cx="766.8" cy="323.2" r="6.3"/><circle cx="767.9" cy="324.1" r="6.3"/><circle cx="769.0" cy="322.9" r="6.3"/><circle cx="770.1" cy="323.6" r="6.3"/><circle cx="771.2" cy="323.8" r="6.3"/><circle cx="772.3" cy="325.3" r="6.3"/><circle cx="773.4" cy="324.5" r="6.3"/><circle cx="774.4" cy="325.7" r="6.3"/><circle cx="775.5" cy="324.3" r="6.3"/><circle cx="776.6" cy="324.9" r="6.3"/><circle cx="777.6" cy="325.9" r="6.3"/><circle cx="778.7" cy="326.7" r="6.3"/><circle cx="779.7" cy="325.8" r="6.3"/><circle cx="780.7" cy="325.3" r="6.3"/><circle cx="781.8" cy="325.1" r="6.3"/><circle cx="782.8" cy="326.1" r="6.3"/><circle cx="783.8" cy="325.3" r="6.3"/><circle cx="784.8" cy="326.7" r="6.3"/><circle cx="785.9" cy="326.8" r="6.3"/><circle cx="786.9" cy="319.0" r="6.3"/><circle cx="745.7" cy="317.5" r="6.3"/><circle cx="756.0" cy="317.5" r="6.3"/><circle cx="768.0" cy="320.7" r="6.3"/><circle cx="776.0" cy="324.8" r="6.3"/><circle cx="752.0" cy="320.4" r="6.3"/><circle cx="760.0" cy="321.2" r="6.3"/><circle cx="768.0" cy="324.4" r="6.3"/><circle cx="776.0" cy="328.4" r="6.3"/><circle cx="784.4" cy="327.6" r="6.3"/><circle cx="772.0" cy="326.5" r="6.3"/><circle cx="780.0" cy="327.5" r="6.3"/></g>
<polyline fill="none" stroke="#bfbf00" stroke-width="4.2" points="79.50,20.63 81.42,21.45 83.34,22.26 85.25,23.07 87.17,23.89 89.09,24.70 91.01,25.51 92.93,26.33 94.84,27.14 96.76,27.95 98.68,28.77 100.60,29.58 102.52,30.39 104.43,31.21 106.35,32.02 108.27,32.83 110.19,33.65 112.11,34.46 114.02,35.27 115.94,36.09 117.86,36.90 119.78,37.71 121.70,38.53 123.61,39.34 125.53,40.15 127.45,40.96 129.37,41.78 131.29,42.59 133.20,43.40 135.12,44.22 137.04,45.03 138.96,45.84 140.88,46.66 142.79,47.47 144.71,48.28 146.63,49.10 148.55,49.91 150.47,50.72 152.38,51.54 154.30,52.35 156.22,53.16 158.14,53.97 160.06,54.79 161.97,55.60 163.89,56.41 165.81,57.23 167.73,58.04 169.65,58.85 171.56,59.66 173.48,60.48 175.40,61.29 177.32,62.10 179.24,62.92 181.15,63.73 183.07,64.54 184.99,65.35 186.91,66.17 188.83,66.98 190.74,67.79 192.66,68.61 194.58,69.42 196.50,70.23 198.42,71.04 200.33,71.86 202.25,72.67 204.17,73.48 206.09,74.29 208.01,75.11 209.92,75.92 211.84,76.73 213.76,77.54 215.68,78.36 217.60,79.17 219.51,79.98 221.43,80.79 223.35,81.61 225.27,82.42 227.19,83.23 229.10,84.04 231.02,84.86 232.94,85.67 234.86,86.48 236.78,87.29 238.69,88.11 240.61,88.92 242.53,89.73 244.45,90.54 246.37,91.35 248.28,92.17 250.20,92.98 252.12,93.79 254.04,94.60 255.96,95.41 257.87,96.23 259.79,97.04 261.71,97.85 263.63,98.66 265.55,99.47 267.46,100.29 269.38,101.10 271.30,101.91 273.22,102.72 275.14,103.53 277.05,104.34 278.97,105.16 280.89,105.97 282.81,106.78 284.73,107.59 286.64,108.40 288.56,109.21 290.48,110.02 292.40,110.84 294.32,111.65 296.23,112.46 298.15,113.27 300.07,114.08 301.99,114.89 303.91,115.70 305.82,116.51 307.74,117.32 309.66,118.13 311.58,118.95 313.50,119.76 315.41,120.57 317.33,121.38 319.25,122.19 321.17,123.00 323.09,123.81 325.00,124.62 326.92,125.43 328.84,126.24 330.76,127.05 332.68,127.86 334.59,128.67 336.51,129.48 338.43,130.29 340.35,131.10 342.27,131.91 344.18,132.72 346.10,133.53 348.02,134.34 349.94,135.15 351.86,135.96 353.77,136.77 355.69,137.58 357.61,138.39 359.53,139.19 361.45,140.00 363.36,140.81 365.28,141.62 367.20,142.43 369.12,143.24 371.04,144.05 372.95,144.86 374.87,145.66 376.79,146.47 378.71,147.28 380.63,148.09 382.54,148.90 384.46,149.71 386.38,150.51 388.30,151.32 390.22,152.13 392.13,152.94 394.05,153.74 395.97,154.55 397.89,155.36 399.81,156.16 401.72,156.97 403.64,157.78 405.56,158.58 407.48,159.39 409.40,160.20 411.31,161.00 413.23,161.81 415.15,162.62 417.07,163.42 418.99,164.23 420.90,165.03 422.82,165.84 424.74,166.64 426.66,167.45 428.58,168.25 430.49,169.06 432.41,169.86 434.33,170.67 436.25,171.47 438.17,172.28 440.08,173.08 442.00,173.88 443.92,174.69 445.84,175.49 447.76,176.29 449.67,177.10 451.59,177.90 453.51,178.70 455.43,179.50 457.35,180.31 459.26,181.11 461.18,181.91 463.10,182.71 465.02,183.51 466.94,184.31 468.85,185.11 470.77,185.92 472.69,186.72 474.61,187.52 476.53,188.32 478.44,189.12 480.36,189.91 482.28,190.71 484.20,191.51 486.12,192.31 488.03,193.11 489.95,193.91 491.87,194.71 493.79,195.50 495.71,196.30 497.62,197.10 499.54,197.89 501.46,198.69 503.38,199.49 505.30,200.28 507.21,201.08 509.13,201.87 511.05,202.67 512.97,203.46 514.89,204.25 516.80,205.05 518.72,205.84 520.64,206.63 522.56,207.43 524.48,208.22 526.39,209.01 528.31,209.80 530.23,210.59 532.15,211.38 534.07,212.17 535.98,212.96 537.90,213.75 539.82,214.54 541.74,215.33 543.66,216.12 545.57,216.90 547.49,217.69 549.41,218.48 551.33,219.26 553.25,220.05 555.16,220.83 557.08,221.62 559.00,222.40 560.92,223.18 562.84,223.97 564.75,224.75 566.67,225.53 568.59,226.31 570.51,227.09 572.43,227.87 574.34,228.65 576.26,229.43 578.18,230.21 580.10,230.99 582.02,231.76 583.93,232.54 585.85,233.31 587.77,234.09 589.69,234.86 591.61,235.64 593.52,236.41 595.44,237.18 597.36,237.95 599.28,238.72 601.20,239.49 603.11,240.26 605.03,241.03 606.95,241.80 608.87,242.56 610.79,243.33 612.70,244.09 614.62,244.86 616.54,245.62 618.46,246.38 620.38,247.14 622.29,247.91 624.21,248.66 626.13,249.42 628.05,250.18 629.97,250.94 631.88,251.69 633.80,252.45 635.72,253.20 637.64,253.95 639.56,254.71 641.47,255.46 643.39,256.21 645.31,256.95 647.23,257.70 649.15,258.45 651.06,259.19 652.98,259.94 654.90,260.68 656.82,261.42 658.74,262.16 660.65,262.90 662.57,263.64 664.49,264.37 666.41,265.11 668.33,265.84 670.24,266.58 672.16,267.31 674.08,268.04 676.00,268.76 677.92,269.49 679.83,270.22 681.75,270.94 683.67,271.66 685.59,272.38 687.51,273.10 689.42,273.82 691.34,274.54 693.26,275.25 695.18,275.97 697.10,276.68 699.01,277.39 700.93,278.10 702.85,278.80 704.77,279.51 706.69,280.21 708.60,280.91 710.52,281.61 712.44,282.31 714.36,283.00 716.28,283.70 718.19,284.39 720.11,285.08 722.03,285.77 723.95,286.45 725.87,287.14 727.78,287.82 729.70,288.50 731.62,289.18 733.54,289.86 735.46,290.53 737.37,291.20 739.29,291.87 741.21,292.54 743.13,293.20 745.05,293.87 746.96,294.53 748.88,295.18 750.80,295.84 752.72,296.49 754.64,297.14 756.55,297.79 758.47,298.44 760.39,299.08 762.31,299.72 764.23,300.36 766.14,301.00 768.06,301.63 769.98,302.26 771.90,302.89 773.82,303.52 775.73,304.14 777.65,304.76 779.57,305.38 781.49,306.00 783.41,306.61 785.32,307.22 787.24,307.82 789.16,308.43 791.08,309.03 793.00,309.63 794.91,310.22 796.83,310.81 798.75,311.40 800.67,311.99 802.59,312.57 804.50,313.15 806.42,313.73 808.34,314.30 810.26,314.87 812.18,315.44 814.09,316.00 816.01,316.56 817.93,317.12 819.85,317.68 821.77,318.23 823.68,318.78 825.60,319.32 827.52,319.86 829.44,320.40 831.36,320.93 833.27,321.47 835.19,321.99 837.11,322.52 839.03,323.04 840.95,323.56 842.86,324.07 844.78,324.58 846.70,325.09"/>
<line x1="79.5" y1="176.2" x2="787.2" y2="325.2" stroke="#d95319" stroke-width="3.8"/>
<circle cx="738.9" cy="317.2" r="12.4" fill="none" stroke="#008000" stroke-width="4"/>
<circle cx="805.8" cy="314" r="12.3" fill="none" stroke="#ff0000" stroke-width="4.3"/>
<text x="71.5" y="19.5" font-size="29.2" text-anchor="end">30</text>
<text x="71.5" y="121.1" font-size="29.2" text-anchor="end">20</text>
<text x="71.5" y="222.6" font-size="29.2" text-anchor="end">10</text>
<text x="69.7" y="324.2" font-size="29.2" text-anchor="end">0</text>
<text x="71.5" y="425.8" font-size="29.2" text-anchor="end">-10</text>
<text x="205.5" y="458.1" font-size="29.2">10<tspan font-size="22" dx="-2.5" dy="-15">9</tspan></text>
<text x="677.5" y="458.1" font-size="29.2">10<tspan font-size="22" dx="-2.5" dy="-15">10</tspan></text>
<text x="367" y="488" font-size="30.5">Frequency [Hz]</text>
<text transform="translate(23.3,273.8) rotate(-90)" font-size="30.1">Gain [dB]</text>
<g transform="translate(0,0)" fill="none" stroke="#008000"><path d="M711.6,333.4 C711.9,331 709.6,329.6 707.9,331.3 C706.3,333 705.3,337.5 704.4,341.5 C703.2,346.5 702,351 700.2,353.6 C698.6,356 696.2,356.8 694.9,355.6" stroke-width="1.9" stroke-linecap="round"/><path d="M700.6,337.9 L708.2,337.9" stroke-width="1.6"/><circle cx="711.3" cy="333.2" r="1.3" fill="#008000" stroke="none"/><circle cx="695" cy="355" r="1.3" fill="#008000" stroke="none"/></g>
<g transform="translate(85.5,1.0)" fill="none" stroke="#ff0000"><path d="M711.6,333.4 C711.9,331 709.6,329.6 707.9,331.3 C706.3,333 705.3,337.5 704.4,341.5 C703.2,346.5 702,351 700.2,353.6 C698.6,356 696.2,356.8 694.9,355.6" stroke-width="1.9" stroke-linecap="round"/><path d="M700.6,337.9 L708.2,337.9" stroke-width="1.6"/><circle cx="711.3" cy="333.2" r="1.3" fill="#ff0000" stroke="none"/><circle cx="695" cy="355" r="1.3" fill="#ff0000" stroke="none"/></g>
<text x="707" y="364" font-size="23.5" font-style="italic" style="fill:#008000">max</text>
<text x="794" y="364.6" font-size="22.5" font-style="italic" style="fill:#ff0000">T</text>
<rect x="676.3" y="23.8" width="156.7" height="136.1" fill="#fff" stroke="#5a5a5a" stroke-width="1.6"/><circle cx="695.4" cy="39.6" r="6.3" fill="#0072bd"/><circle cx="695.4" cy="73" r="6.3" fill="#000"/><line x1="680.3" y1="106.3" x2="711" y2="106.3" stroke="#bfbf00" stroke-width="4.4"/><line x1="680.3" y1="139.6" x2="711" y2="139.6" stroke="#d95319" stroke-width="4.4"/><text x="714" y="49.2" font-size="25.5">|<tspan font-style="italic">h21</tspan>| (exp.)</text><text x="714" y="85.5" font-size="25.5"><tspan font-style="italic">U</tspan><tspan font-size="21" dx="0.8" dy="-12.5">1/2</tspan><tspan dx="0.5" dy="12.5"> (exp.)</tspan></text><text x="714" y="116" font-size="25.5">|<tspan font-style="italic">h21</tspan>| (sim.)</text><text x="714" y="152" font-size="25.5"><tspan font-style="italic">U</tspan><tspan font-size="21" dx="0.8" dy="-12.5">1/2</tspan><tspan dx="0.5" dy="12.5"> (sim.)</tspan></text>
</svg></body></html>
